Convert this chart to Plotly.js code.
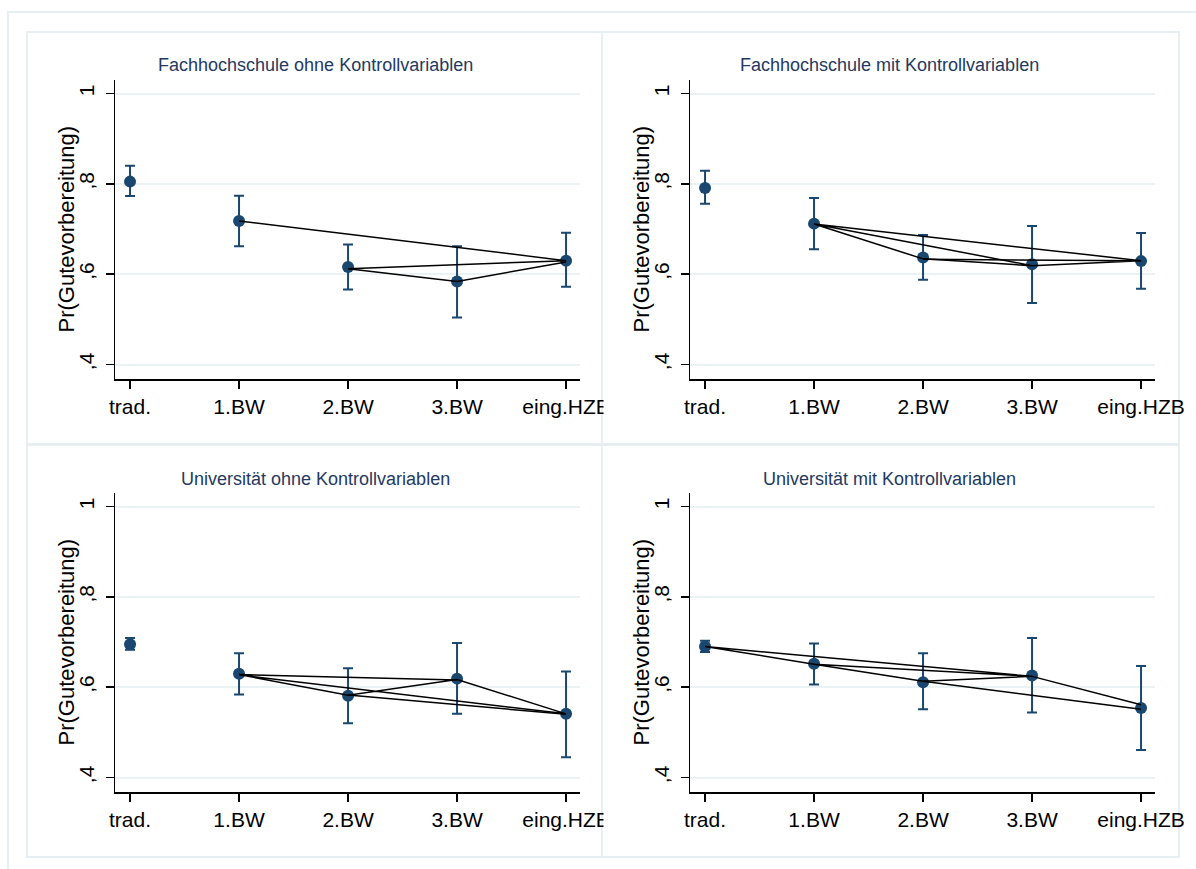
<!DOCTYPE html>
<html>
<head>
<meta charset="utf-8">
<script src="https://cdn.plot.ly/plotly-3.0.1.min.js"></script>
<style>
html,body{margin:0;padding:0;background:#fff;}
#chart{width:1196px;height:869px;}
</style>
</head>
<body>
<div id="chart"></div>
<script>
// ---------- DATA ----------
const categories = ["trad.", "1.BW", "2.BW", "3.BW", "eing.HZB"];
const yTickVals = [0.4, 0.6, 0.8, 1];
const yTickText = [",4", ",6", ",8", "1"];
const yAxisTitle = "Pr(Gutevorbereitung)";

const panelTitles = [
  "Fachhochschule ohne Kontrollvariablen",
  "Fachhochschule mit Kontrollvariablen",
  "Universität ohne Kontrollvariablen",
  "Universität mit Kontrollvariablen"
];

// Panel 1: Fachhochschule ohne Kontrollvariablen
const fhOhneEst = [0.805, 0.718, 0.616, 0.584, 0.630];
const fhOhneLo  = [0.773, 0.662, 0.566, 0.504, 0.572];
const fhOhneHi  = [0.840, 0.774, 0.666, 0.662, 0.692];
const fhOhneLineX = ["1.BW", "eing.HZB", "2.BW", "3.BW", "eing.HZB"];
const fhOhneLineY = [0.718, 0.630, 0.612, 0.584, 0.627];

// Panel 2: Fachhochschule mit Kontrollvariablen
const fhMitEst = [0.791, 0.712, 0.637, 0.622, 0.629];
const fhMitLo  = [0.756, 0.655, 0.588, 0.536, 0.568];
const fhMitHi  = [0.829, 0.769, 0.687, 0.707, 0.691];
const fhMitLineX = ["eing.HZB", "1.BW", "2.BW", "3.BW", "1.BW", null, "2.BW", "eing.HZB", "3.BW"];
const fhMitLineY = [0.630, 0.711, 0.634, 0.619, 0.711, null, 0.633, 0.630, 0.619];

// Panel 3: Universität ohne Kontrollvariablen
const uniOhneEst = [0.695, 0.630, 0.581, 0.619, 0.541];
const uniOhneLo  = [0.683, 0.584, 0.520, 0.541, 0.445];
const uniOhneHi  = [0.709, 0.675, 0.642, 0.698, 0.635];
const uniOhneLineX = ["3.BW", "1.BW", "2.BW", "3.BW", "eing.HZB", "1.BW", null, "2.BW", "eing.HZB"];
const uniOhneLineY = [0.616, 0.628, 0.582, 0.617, 0.541, 0.627, null, 0.583, 0.540];

// Panel 4: Universität mit Kontrollvariablen
const uniMitEst = [0.690, 0.652, 0.611, 0.626, 0.554];
const uniMitLo  = [0.678, 0.606, 0.551, 0.544, 0.461];
const uniMitHi  = [0.703, 0.697, 0.675, 0.709, 0.647];
const uniMitLineX = ["3.BW", "trad.", "1.BW", "3.BW", "2.BW", "1.BW", null, "3.BW", "eing.HZB", null, "2.BW", "eing.HZB"];
const uniMitLineY = [0.624, 0.690, 0.651, 0.624, 0.613, 0.651, null, 0.624, 0.561, null, 0.613, 0.551];

// ---------- STYLE / LAYOUT ----------
const W = 1196, H = 869;
const NAVY = "#1a476f";
const FONT = "Liberation Sans, Arial, Helvetica, sans-serif";
const px = p => p / W;
const py = p => 1 - p / H;

const panels = [
  {est: fhOhneEst, lo: fhOhneLo, hi: fhOhneHi, lx: fhOhneLineX, ly: fhOhneLineY, dx: 0, dy: 0},
  {est: fhMitEst, lo: fhMitLo, hi: fhMitHi, lx: fhMitLineX, ly: fhMitLineY, dx: 575, dy: 0},
  {est: uniOhneEst, lo: uniOhneLo, hi: uniOhneHi, lx: uniOhneLineX, ly: uniOhneLineY, dx: 0, dy: 413},
  {est: uniMitEst, lo: uniMitLo, hi: uniMitHi, lx: uniMitLineX, ly: uniMitLineY, dx: 575, dy: 413}
];

const traces = [];
const layout = {
  width: W, height: H, autosize: false,
  margin: {l: 0, r: 0, t: 0, b: 0, pad: 0},
  paper_bgcolor: "#ffffff", plot_bgcolor: "#ffffff",
  showlegend: false,
  font: {family: FONT, color: "#000"},
  annotations: [], shapes: []
};

panels.forEach((p, i) => {
  const n = i === 0 ? "" : String(i + 1);
  const xa = "x" + n, ya = "y" + n;
  traces.push({
    type: "scatter", mode: "markers", xaxis: xa, yaxis: ya,
    x: categories, y: p.est,
    marker: {color: NAVY, size: 12},
    error_y: {type: "data", symmetric: false,
      array: p.hi.map((v, k) => v - p.est[k]),
      arrayminus: p.est.map((v, k) => v - p.lo[k]),
      color: NAVY, thickness: 2, width: 5},
    hoverinfo: "skip"
  });
  traces.push({
    type: "scatter", mode: "lines", xaxis: xa, yaxis: ya,
    x: p.lx, y: p.ly, connectgaps: false,
    line: {color: "#000", width: 1.5},
    hoverinfo: "skip"
  });

  const x0 = 115 + p.dx, x1 = 580 + p.dx;
  const yTop = 80 + p.dy, yBot = 379 + p.dy;
  layout["xaxis" + n] = {
    anchor: ya, domain: [px(x0), px(x1)],
    type: "category", categoryarray: categories, categoryorder: "array",
    range: [-0.138, 4.128],
    showline: true, linecolor: "#000", linewidth: 1.5,
    ticks: "outside", ticklen: 8, tickwidth: 1.5, tickcolor: "#000",
    showgrid: false, zeroline: false,
    tickfont: {family: FONT, size: 21, color: "#000"},
    fixedrange: true
  };
  layout["yaxis" + n] = {
    anchor: xa, domain: [py(yBot), py(yTop)],
    range: [0.368, 1.030],
    tickmode: "array", tickvals: yTickVals, ticktext: yTickText, tickangle: -90,
    showline: true, linecolor: "#000", linewidth: 1.5,
    ticks: "outside", ticklen: 8, tickwidth: 1.5, tickcolor: "#000",
    ticklabelstandoff: 3,
    showgrid: true, gridcolor: "#eaf2f3", gridwidth: 2, zeroline: false,
    tickfont: {family: FONT, size: 21, color: "#000"},
    fixedrange: true
  };
  // panel title
  layout.annotations.push({
    xref: "paper", yref: "paper", x: px(315 + p.dx), y: py(65.5 + p.dy),
    xanchor: "center", yanchor: "middle", showarrow: false,
    text: panelTitles[i], font: {family: FONT, size: 18, color: "#23395f"}
  });
  // y axis title
  layout.annotations.push({
    xref: "paper", yref: "paper", x: px(66 + p.dx), y: py(229.5 + p.dy),
    xanchor: "center", yanchor: "middle", showarrow: false, textangle: -90,
    text: yAxisTitle, font: {family: FONT, size: 22, color: "#000"}
  });
  // panel frame
  layout.shapes.push({
    type: "rect", xref: "paper", yref: "paper",
    x0: px(27 + p.dx), x1: px(602 + p.dx + (p.dx ? 2 : 0)),
    y0: py(32 + p.dy), y1: py(444 + p.dy),
    line: {color: "#e8eff2", width: 2}, fillcolor: "rgba(0,0,0,0)", layer: "below"
  });
  // left panels: their last tick label is cut at the panel edge
  if (!p.dx) {
    layout.shapes.push({
      type: "rect", xref: "paper", yref: "paper",
      x0: px(603.5), x1: px(620), y0: py(388 + p.dy), y1: py(428 + p.dy),
      line: {width: 0}, fillcolor: "#ffffff", layer: "above"
    });
  }
});

// outer frame
layout.shapes.push({
  type: "rect", xref: "paper", yref: "paper",
  x0: px(8), x1: px(1230), y0: py(12), y1: py(900),
  line: {color: "#e8eff2", width: 2}, fillcolor: "rgba(0,0,0,0)", layer: "below"
});

Plotly.newPlot("chart", traces, layout, {displayModeBar: false, staticPlot: true});
</script>
</body>
</html>
